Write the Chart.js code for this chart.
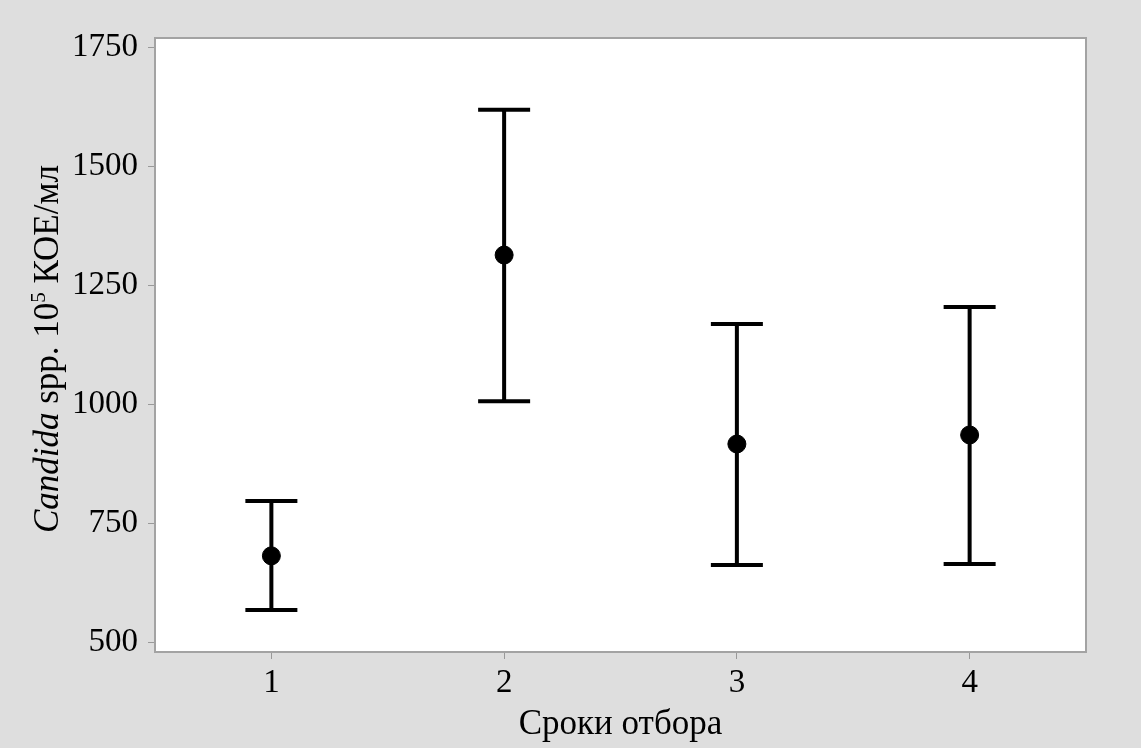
<!DOCTYPE html>
<html><head><meta charset="utf-8">
<script src="https://cdn.jsdelivr.net/npm/chart.js@4/dist/chart.umd.min.js"></script>
<style>html,body{margin:0;padding:0;background:#dedede;}#wrap{width:1141px;height:748px;}</style>
</head><body><div id="wrap"><canvas id="c" width="1141" height="748"></canvas></div>
<script>
const categories = [1, 2, 3, 4];
const means = [681, 1313, 916, 935];
const upper = [796, 1618, 1168, 1204];
const lower = [567, 1006, 662, 664];
const yTicks = [500, 750, 1000, 1250, 1500, 1750];
const xLabel = 'Сроки отбора';
const yLabelItalic = 'Candida';
const yLabelRest = ' spp. 10';
const yLabelSup = '5';
const yLabelEnd = ' КОЕ/мл';

const FONT = "'Liberation Serif', 'DejaVu Serif', serif";

const bgPlugin = {
  id: 'bg',
  beforeDraw(chart) {
    const {ctx, chartArea: a} = chart;
    ctx.save();
    ctx.fillStyle = '#dedede';
    ctx.fillRect(0, 0, chart.width, chart.height);
    ctx.fillStyle = '#ffffff';
    ctx.fillRect(a.left, a.top, a.right - a.left, a.bottom - a.top);
    ctx.restore();
  },
  afterDraw(chart) {
    const {ctx, chartArea: a} = chart;
    ctx.save();
    ctx.strokeStyle = '#a3a3a3';
    ctx.lineWidth = 2;
    ctx.strokeRect(a.left, a.top, a.right - a.left, a.bottom - a.top);
    // y title
    ctx.translate(49, 349);
    ctx.rotate(-Math.PI / 2);
    ctx.fillStyle = '#000';
    ctx.textBaseline = 'middle';
    const f1 = "italic 35px " + FONT, f2 = "35px " + FONT, f3 = "21px " + FONT;
    ctx.font = f1; const w1 = ctx.measureText(yLabelItalic).width;
    ctx.font = f2; const w2 = ctx.measureText(yLabelRest).width;
    ctx.font = f3; const w3 = ctx.measureText(yLabelSup).width;
    ctx.font = f2; const w4 = ctx.measureText(yLabelEnd).width;
    let x = -(w1 + w2 + w3 + w4) / 2;
    ctx.textAlign = 'left';
    ctx.font = f1; ctx.fillText(yLabelItalic, x, 0); x += w1;
    ctx.font = f2; ctx.fillText(yLabelRest, x, 0); x += w2;
    ctx.font = f3; ctx.fillText(yLabelSup, x, -10); x += w3;
    ctx.font = f2; ctx.fillText(yLabelEnd, x, 0);
    ctx.restore();
  }
};

const errPlugin = {
  id: 'err',
  afterDatasetsDraw(chart) {
    const {ctx} = chart;
    const xs = chart.scales.x, ys = chart.scales.y;
    ctx.save();
    ctx.strokeStyle = '#000';
    ctx.lineWidth = 4;
    ctx.lineCap = 'butt';
    for (let i = 0; i < categories.length; i++) {
      const px = xs.getPixelForValue(categories[i]);
      const yt = ys.getPixelForValue(upper[i]);
      const yb = ys.getPixelForValue(lower[i]);
      ctx.beginPath();
      ctx.moveTo(px, yt); ctx.lineTo(px, yb);
      ctx.moveTo(px - 26, yt); ctx.lineTo(px + 26, yt);
      ctx.moveTo(px - 26, yb); ctx.lineTo(px + 26, yb);
      ctx.stroke();
    }
    ctx.restore();
  }
};

new Chart(document.getElementById('c'), {
  type: 'scatter',
  data: {
    datasets: [{
      data: categories.map((c, i) => ({x: c, y: means[i]})),
      backgroundColor: '#000',
      borderColor: '#000',
      pointRadius: 9,
      pointHoverRadius: 9
    }]
  },
  options: {
    responsive: false,
    animation: false,
    devicePixelRatio: 1,
    layout: {padding: {left: 0, top: 38, right: 55, bottom: 0}},
    plugins: {legend: {display: false}, tooltip: {enabled: false}},
    scales: {
      x: {
        type: 'linear', min: 0.5, max: 4.5,
        afterBuildTicks(s) { s.ticks = categories.map(v => ({value: v})); },
        afterFit(s) { s.height = 96; },
        grid: {drawOnChartArea: false, drawTicks: true, tickLength: 7, color: '#999', lineWidth: 1},
        border: {display: false},
        ticks: {color: '#000', font: {family: FONT, size: 33}, padding: 5, maxRotation: 0,
                callback: v => String(v)},
        title: {display: true, text: xLabel, color: '#000', font: {family: FONT, size: 35}, padding: {top: 0, bottom: 2}}
      },
      y: {
        type: 'linear', min: 479, max: 1769,
        afterBuildTicks(s) { s.ticks = yTicks.map(v => ({value: v})); },
        afterFit(s) { s.width = 155; },
        grid: {drawOnChartArea: false, drawTicks: true, tickLength: 7, color: '#999', lineWidth: 1},
        border: {display: false},
        ticks: {color: '#000', font: {family: FONT, size: 33}, padding: 10,
                callback: v => String(v)}
      }
    }
  },
  plugins: [bgPlugin, errPlugin]
});
</script></body></html>
